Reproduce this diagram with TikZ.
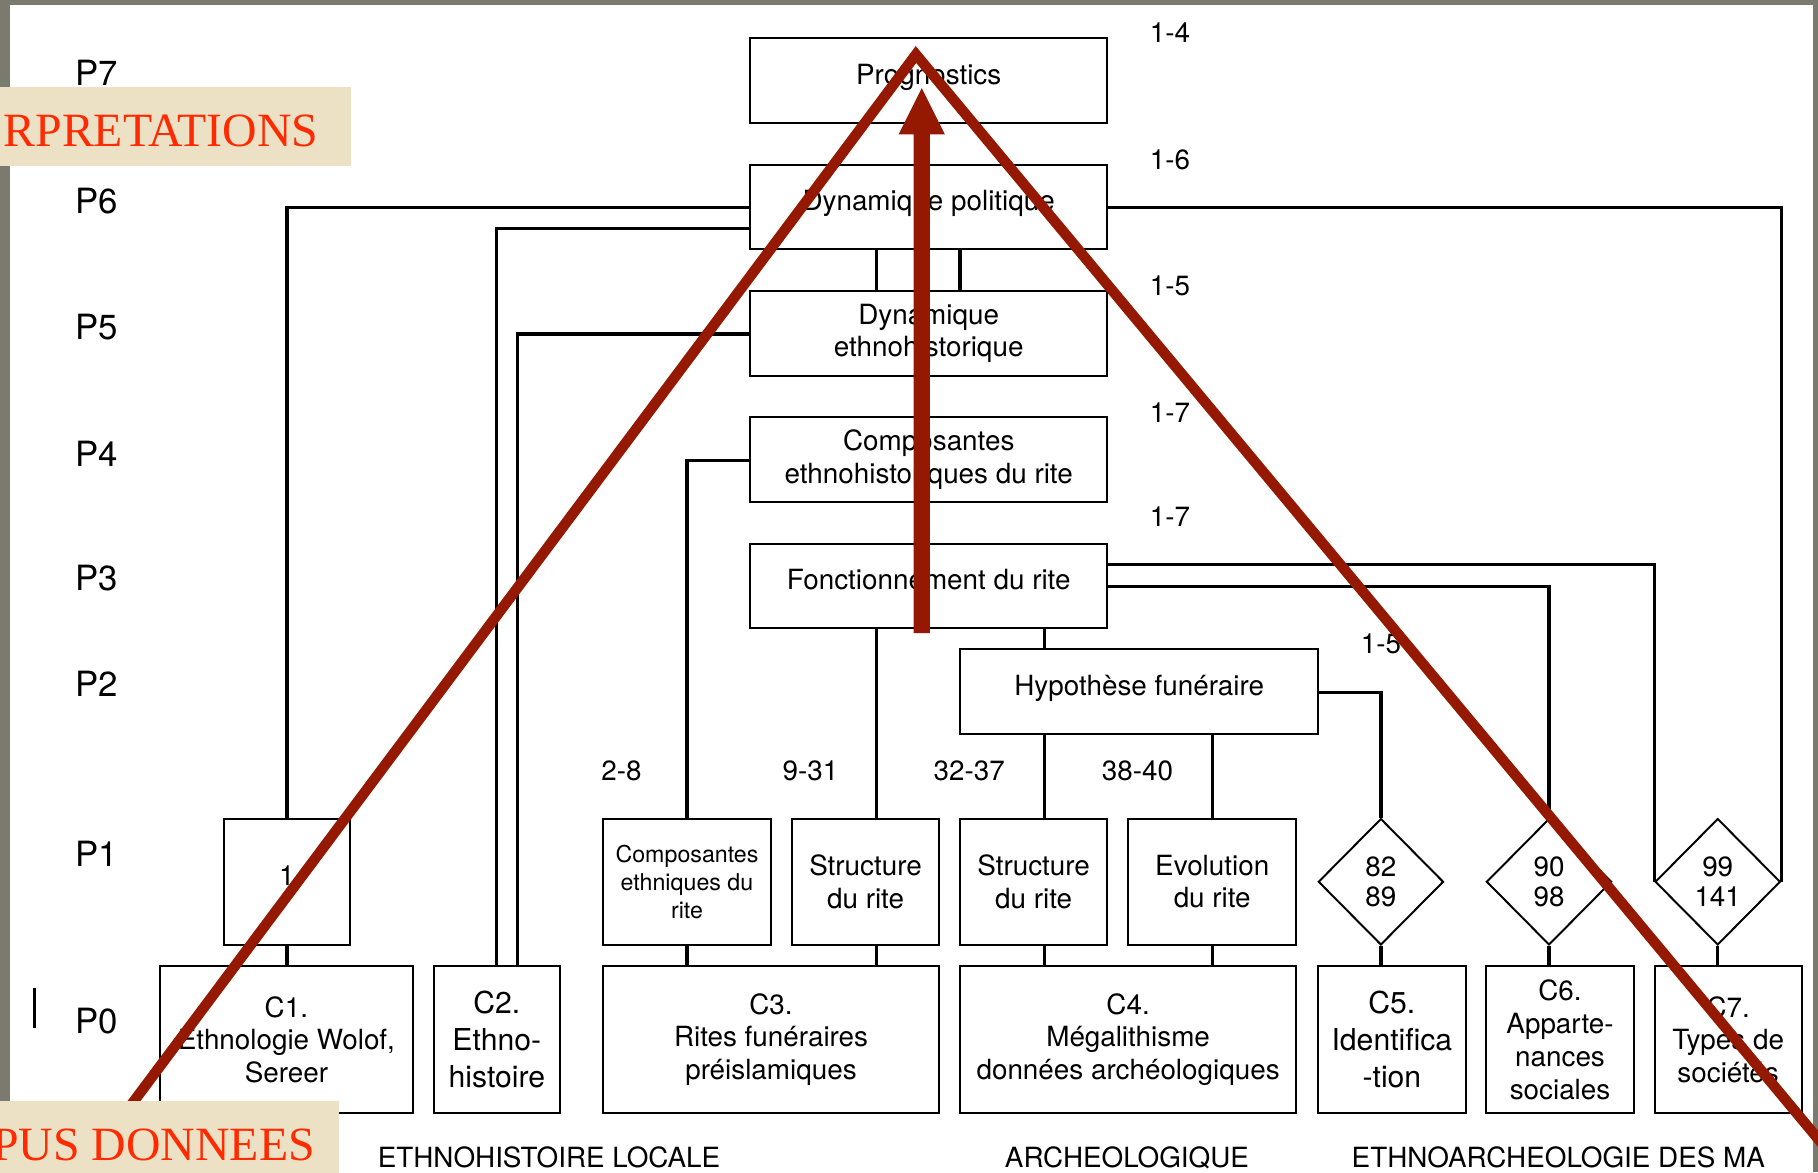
\documentclass[tikz,border=0pt]{standalone}
\usepackage{fontspec}
\setmainfont{TeX Gyre Heros}
\newfontfamily\serifred{Liberation Serif}
\usetikzlibrary{shapes.geometric}
\definecolor{framegray}{HTML}{7A7B6E}
\definecolor{beige}{HTML}{ECE1C5}
\definecolor{labelred}{HTML}{FF2A00}
\definecolor{darkred}{HTML}{951900}
\begin{document}
\begin{tikzpicture}[x=0.5pt,y=-0.5pt,
  bx/.style={draw, line width=0.85pt, inner sep=0pt, align=center, font=\fontsize{12}{14}\selectfont},
  oneline/.style={text height=9pt, text depth=6pt},
  dmd/.style={draw, diamond, line width=0.85pt, inner sep=0pt, minimum width=54pt, minimum height=54.5pt, align=center, font=\fontsize{12}{13}\selectfont},
  conn/.style={line width=1.4pt},
  numlab/.style={font=\fontsize{12}{14}\selectfont, inner sep=0pt},
  plab/.style={font=\fontsize{15}{18}\selectfont, inner sep=0pt},
  redline/.style={draw=darkred, line width=4.5pt, line join=miter},
  redlab/.style={font=\serifred\fontsize{20.6}{24}\selectfont, text=labelred, inner sep=0pt, anchor=base east},
]
% frame
\useasboundingbox (0,0) rectangle (1568,1011);
\fill[framegray] (0,0) rectangle (1568,1011);
\fill[white] (8.6,4.3) rectangle (1563.5,1011);

% level labels
\node[plab] (p7) at (83.5,63) {P7};
\node[plab] (p6) at (83.5,173) {P6};
\node[plab] (p5) at (83.5,282) {P5};
\node[plab] (p4) at (83.5,391) {P4};
\node[plab] (p3) at (83.5,499) {P3};
\node[plab] (p2) at (83.5,590) {P2};
\node[plab] (p1) at (83.5,736) {P1};
\node[plab] (p0) at (83.5,881) {P0};
\draw[line width=1.2pt] (30,852) -- (30,887);

% upper boxes
\node[bx,oneline,minimum width=154pt,minimum height=36.5pt] (prog) at (801,69.5) {Prognostics};
\node[bx,oneline,minimum width=154pt,minimum height=36.5pt] (dpol) at (801,178.5) {Dynamique politique};
\node[bx,minimum width=154pt,minimum height=36.5pt] (deth) at (801,287.5) {Dynamique\\ethnohistorique};
\node[bx,minimum width=154pt,minimum height=36.5pt] (ceth) at (801,396.5) {Composantes\\ethnohistoriques du rite};
\node[bx,oneline,minimum width=154pt,minimum height=36.5pt] (fonc) at (801,505.5) {Fonctionnement du rite};
\node[bx,oneline,minimum width=154.5pt,minimum height=36.5pt] (hyp) at (982.5,596.5) {Hypothèse funéraire};

% P1 row
\node[bx,oneline,minimum width=54.5pt,minimum height=54.5pt] (b1) at (247.5,760.5) {1};
\node[bx,minimum width=72.5pt,minimum height=54.5pt,font=\fontsize{10}{12}\selectfont] (bce) at (592.5,760.5) {Composantes\\ethniques du\\rite};
\node[bx,minimum width=63.5pt,minimum height=54.5pt] (bs1) at (746.5,760.5) {Structure\\du rite};
\node[bx,minimum width=63.5pt,minimum height=54.5pt] (bs2) at (891.5,760.5) {Structure\\du rite};
\node[bx,minimum width=72.5pt,minimum height=54.5pt] (bev) at (1045.5,760.5) {Evolution\\du rite};
\node[dmd] (d1) at (1191,760.5) {82\\89};
\node[dmd] (d2) at (1336,760.5) {90\\98};
\node[dmd] (d3) at (1481.5,760.5) {99\\141};

% P0 row
\node[bx,minimum width=109pt,minimum height=63.5pt] (c1) at (247,896.5) {C1.\\Ethnologie Wolof,\\Sereer};
\node[bx,minimum width=54.5pt,minimum height=63.5pt,font=\fontsize{13}{16}\selectfont] (c2) at (428.5,896.5) {C2.\\Ethno-\\histoire};
\node[bx,minimum width=145pt,minimum height=63.5pt] (c3) at (665,896.5) {C3.\\Rites funéraires\\préislamiques};
\node[bx,minimum width=145pt,minimum height=63.5pt] (c4) at (973,896.5) {C4.\\Mégalithisme\\données archéologiques};
\node[bx,minimum width=63.5pt,minimum height=63.5pt,font=\fontsize{13}{16}\selectfont] (c5) at (1200.5,896.5) {C5.\\Identifica\\-tion};
\node[bx,minimum width=63.5pt,minimum height=63.5pt,font=\fontsize{12}{14.2}\selectfont] (c6) at (1345.5,896.5) {C6.\\Apparte-\\nances\\sociales};
\node[bx,minimum width=63.5pt,minimum height=63.5pt] (c7) at (1490.5,896.5) {C7.\\Types de\\sociétés};

% number labels
\node[numlab] (n14) at (1009,28.5) {1-4};
\node[numlab] (n16) at (1009,137.5) {1-6};
\node[numlab] (n15a) at (1009,246.5) {1-5};
\node[numlab] (n17a) at (1009,355.5) {1-7};
\node[numlab] (n17b) at (1009,446) {1-7};
\node[numlab] (n15b) at (1191,555) {1-5};
\node[numlab] (n28) at (536,664.5) {2-8};
\node[numlab] (n931) at (699,664.5) {9-31};
\node[numlab] (n3237) at (836,664.5) {32-37};
\node[numlab] (n3840) at (981,664.5) {38-40};

% bottom labels
\node[numlab,anchor=base] (l1) at (473.5,1007) {ETHNOHISTOIRE LOCALE};
\node[numlab,anchor=base] (l2) at (972,1007) {ARCHEOLOGIQUE};
\node[numlab,anchor=base] (l3) at (1344,1007) {ETHNOARCHEOLOGIE DES MA};

% connectors
\draw[conn] (dpol.west |- 0,179) -| (b1.north);
\draw[conn] (dpol.west |- 0,197) -| (c2.north);
\draw[conn] (deth.west |- 0,288) -| (c2.north -| 446.5,0);
\draw[conn] (dpol.south -| 756,0) -- (deth.north -| 756,0);
\draw[conn] (dpol.south -| 828,0) -- (deth.north -| 828,0);
\draw[conn] (ceth.west |- 0,397) -| (bce.north);
\draw[conn] (fonc.south -| 756,0) -- (bs1.north -| 756,0);
\draw[conn] (fonc.south -| 901,0) -- (hyp.north -| 901,0);
\draw[conn] (fonc.east |- 0,487) -| (d3.west);
\draw[conn] (fonc.east |- 0,506) -| (d2.north);
\draw[conn] (dpol.east |- 0,179) -| (d3.east);
\draw[conn] (hyp.east |- 0,597) -| (d1.north);
\draw[conn] (hyp.south -| 901,0) -- (bs2.north -| 901,0);
\draw[conn] (hyp.south -| 1046,0) -- (bev.north -| 1046,0);
\draw[conn] (b1.south) -- (c1.north -| b1.south);
\draw[conn] (bce.south) -- (c3.north -| bce.south);
\draw[conn] (bs1.south -| 756,0) -- (c3.north -| 756,0);
\draw[conn] (bs2.south -| 901,0) -- (c4.north -| 901,0);
\draw[conn] (bev.south -| 1046,0) -- (c4.north -| 1046,0);
\draw[conn] (d1.south) -- (c5.north -| d1.south);
\draw[conn] (d2.south) -- (c6.north -| d2.south);
\draw[conn] (d3.south) -- (c7.north -| d3.south);

% red overlay
\begin{scope}
\clip (0,0) rectangle (1568,1011);
\draw[redline] (60,1024) -- (790,47) -- (1577,993);
\end{scope}
\fill[darkred] (788,546) -- (788,116) -- (775,116) -- (795,76) -- (815,116) -- (802,116) -- (802,546) -- cycle;

% beige labels
\fill[beige] (-5,75) rectangle (303,143);
\node[redlab] (interp) at (275,126.5) {RPRETATIONS};
\fill[beige] (-5,950) rectangle (292,1030);
\node[redlab] (corpus) at (272,1000.5) {PUS DONNEES};
\end{tikzpicture}
\end{document}
